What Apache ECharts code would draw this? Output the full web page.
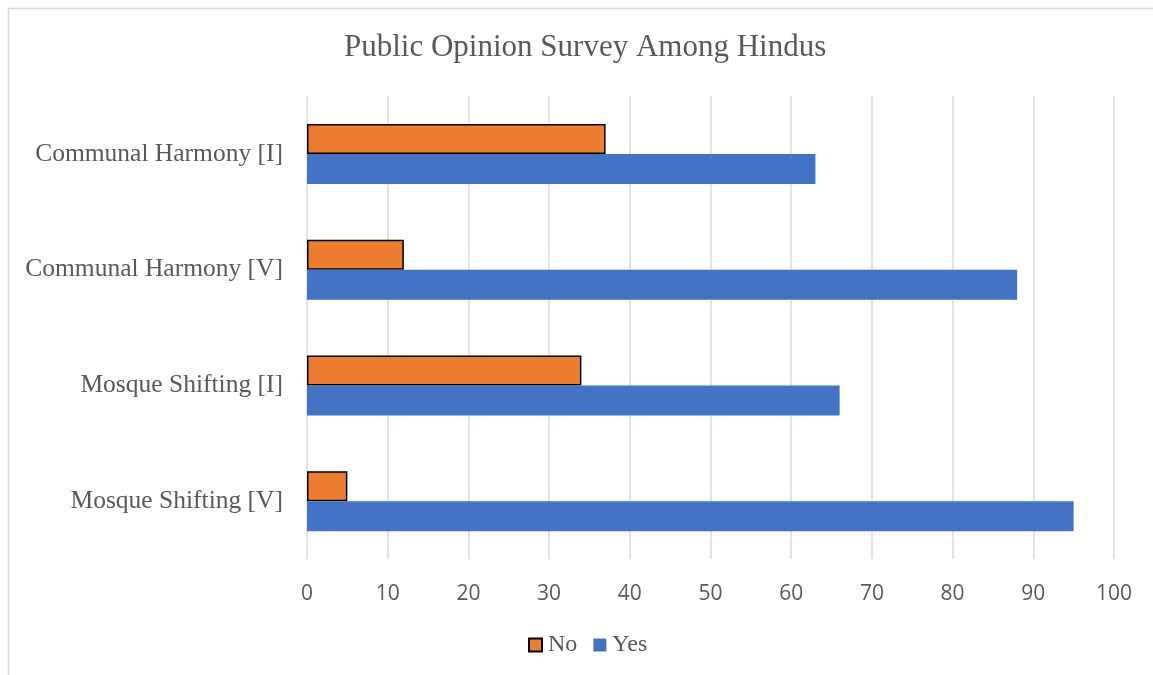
<!DOCTYPE html>
<html><head><meta charset="utf-8">
<script src="https://cdn.jsdelivr.net/npm/echarts@6/dist/echarts.min.js"></script>
<style>html,body{margin:0;padding:0;background:#fff}#c{width:1153px;height:675px}</style>
</head><body><div id="c"></div>
<script>
const categories = ['Mosque Shifting [V]', 'Mosque Shifting [I]', 'Communal Harmony [V]', 'Communal Harmony [I]'];
const noValues = [5, 34, 12, 37];
const yesValues = [95, 66, 88, 63];
const xTicks = {min: 0, max: 100, interval: 10};

const chart = echarts.init(document.getElementById('c'));
chart.setOption({
  backgroundColor: '#fff',
  animation: false,
  graphic: [{type: 'rect', shape: {x: 8.5, y: 8.5, width: 1200, height: 800}, style: {fill: 'none', stroke: '#d9d9d9', lineWidth: 1.5}, silent: true}],
  title: {text: 'Public Opinion Survey Among Hindus', left: 339, top: 27,
    textStyle: {fontFamily: 'Liberation Serif', fontWeight: 'normal', fontSize: 31, color: '#595959'}},
  legend: {top: 628, left: 523, icon: 'rect', itemWidth: 13, itemHeight: 13, itemGap: 16,
    textStyle: {fontFamily: 'Liberation Serif', fontSize: 24, color: '#595959', padding: [0,0,0,1]},
    data: ['No', 'Yes']},
  grid: {left: 307, right: 39, top: 96, bottom: 116},
  xAxis: {type: 'value', min: xTicks.min, max: xTicks.max, interval: xTicks.interval,
    axisLine: {show: false}, axisTick: {show: false},
    splitLine: {lineStyle: {color: '#d9d9d9', width: 1.5}},
    axisLabel: {margin: 25, fontFamily: 'Open Sans', fontSize: 21, color: '#595959'}},
  yAxis: {type: 'category', data: categories,
    axisLine: {show: false}, axisTick: {show: false},
    axisLabel: {margin: 24, fontFamily: 'Liberation Serif', fontSize: 25.5, color: '#595959'}},
  series: [
    {name: 'No', type: 'bar', data: noValues, barWidth: 30, barGap: '0%',
      itemStyle: {color: '#ED7D31', borderColor: '#000', borderWidth: 1.5}},
    {name: 'Yes', type: 'bar', data: yesValues, barWidth: 30, barGap: '0%',
      itemStyle: {color: '#4472C4'}}
  ]
});
</script></body></html>
